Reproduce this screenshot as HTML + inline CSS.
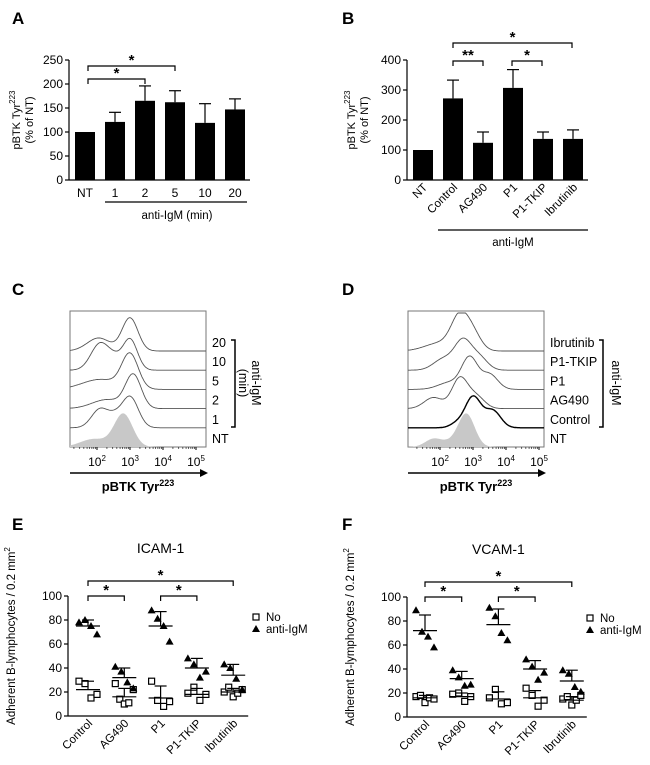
<!DOCTYPE html>
<html><head><meta charset="utf-8"><style>
html,body{margin:0;padding:0;background:#fff;}
svg{display:block;font-family:"Liberation Sans",Arial,sans-serif;}
</style></head><body>
<svg id="fig" width="650" height="765" viewBox="0 0 650 765" xmlns="http://www.w3.org/2000/svg"></svg>
<script>
// ---------- data ----------
const aCats = ["NT","1","2","5","10","20"];
const aVals = [100,121,165,162,119,147];
const aErr  = [0,20,31,24,40,22];
const aTicks = [0,50,100,150,200,250];
const bCats = ["NT","Control","AG490","P1","P1-TKIP","Ibrutinib"];
const bVals = [100,272,124,307,137,137];
const bErr  = [0,61,36,61,23,30];
const bTicks = [0,100,200,300,400];
const eCats = ["Control","AG490","P1","P1-TKIP","Ibrutinib"];
const eNo   = [[29,27,15,18],[27,14,10,11,22],[29,13,8,12],[19,24,13,18],[20,24,16,19,22]];
const eAnti = [[78,80,75,68],[41,37,28,23],[88,81,75,62],[48,43,32,37],[43,40,31,22]];
const eNoMean=[22,16,15,18,20], eNoSd=[7,7,10,5,3];
const eAntiMean=[75,32,75,40,34], eAntiSd=[5,8,12,8,9];
const fNo   = [[17,18,12,16,15],[19,20,13,17],[16,23,11,12],[24,18,9,14],[15,17,10,14,18]];
const fAnti = [[89,71,67,58],[39,33,26,27],[91,84,70,64],[48,42,31,37],[39,36,25,21]];
const fNoMean=[16,17,15,16,14], fNoSd=[2,3,6,6,3];
const fAntiMean=[72,32,77,40,30], fAntiSd=[13,6,13,7,9];
const yTicksEF = [0,20,40,60,80,100];
const cLabels = ["20","10","5","2","1","NT"];
const dLabels = ["Ibrutinib","P1-TKIP","P1","AG490","Control","NT"];
// histogram peaks [log10 center, sigma, height px], top trace first
const cPeaks = [[[3.0,0.24,33],[2.05,0.35,13]],[[2.1,0.28,27],[3.0,0.22,31],[2.55,0.2,8]],[[3.0,0.25,34],[2.1,0.55,10]],[[3.1,0.24,33],[2.3,0.45,9]],[[2.1,0.26,19],[3.0,0.25,31],[2.55,0.2,8]],[[2.8,0.28,33],[1.9,0.4,8]]];
const dPeaks = [[[2.6,0.26,32],[3.0,0.25,16],[2.0,0.45,8]],[[2.7,0.26,29],[2.1,0.3,11],[3.2,0.25,12]],[[2.9,0.24,31],[3.5,0.25,15],[2.3,0.35,7]],[[2.6,0.24,30],[1.8,0.28,11],[3.1,0.25,12]],[[3.0,0.24,31],[3.6,0.24,17],[2.5,0.2,4]],[[2.8,0.25,33],[1.8,0.25,8],[2.3,0.25,4]]];

const NS="http://www.w3.org/2000/svg";
const svg=document.getElementById('fig');
function mk(tag,attrs,name,parent){
  const el=document.createElementNS(NS,tag);
  for(const k in attrs) el.setAttribute(k,attrs[k]);
  
  
  (parent||svg).appendChild(el);
  return el;
}
function line(x1,y1,x2,y2,name,w){return mk('line',{x1,y1,x2,y2,stroke:'#000','stroke-width':w||1.2},name);}
function text(x,y,s,name,o){o=o||{};const t=mk('text',Object.assign({x,y,'font-size':o.fs||12,'text-anchor':o.anchor||'middle',fill:'#000'},o.extra||{}),name);t.textContent=s;return t;}
function ytitle(x,y,html,name,fs){const t=mk('text',{x:0,y:0,'font-size':fs||11,'text-anchor':'middle',transform:`translate(${x},${y}) rotate(-90)`},name);t.innerHTML=html;return t;}
function bracket(x1,x2,y,star,name){
  mk('path',{d:`M${x1},${y+5}V${y}H${x2}V${y+5}`,fill:'none',stroke:'#000','stroke-width':1.2},name);
  text((x1+x2)/2,y-1,star,name+'-star',{fs:15,extra:{'font-weight':'bold'}});
}
// panel letters
[['A',12,24],['B',342,24],['C',12,295],['D',342,295],['E',12,530],['F',342,530]].forEach(p=>{text(p[1],p[2],p[0],'panel-label-'+p[0].toLowerCase(),{fs:17,anchor:'start',extra:{'font-weight':'bold'}});});

// ---------- bar charts ----------
function barChart(cats,vals,errs,ticks,ax,x0,dx,yMax,prefix,rot){
  const y=v=>180-v*120/yMax;
  line(ax,60,ax,180,prefix+'-y-axis');
  line(ax,180,x0+dx*(cats.length-1)+15,180,prefix+'-x-axis');
  ticks.forEach(t=>{line(ax-4,y(t),ax,y(t),prefix+'-y-tick');text(ax-6,y(t)+4,String(t),prefix+'-y-tick-label',{fs:12,anchor:'end'});});
  cats.forEach((c,i)=>{
    const cx=x0+i*dx;
    if(errs[i]>0){line(cx,y(vals[i]),cx,y(vals[i]+errs[i]),prefix+'-error-bar');line(cx-6,y(vals[i]+errs[i]),cx+6,y(vals[i]+errs[i]),prefix+'-error-cap');}
    mk('rect',{x:cx-10,y:y(vals[i]),width:20,height:180-y(vals[i]),fill:'#000'},prefix+'-bar-'+c.toLowerCase());
    if(rot){text(cx+5,188,c,prefix+'-x-label',{fs:11.5,anchor:'end',extra:{transform:`rotate(-45 ${cx+5} 188)`}});}
    else text(cx,197,c,prefix+'-x-label',{fs:12});
  });
}
barChart(aCats,aVals,aErr,aTicks,69,85,30,250,'panel-a',false);
ytitle(20,120,'pBTK Tyr<tspan dy="-5" font-size="8">223</tspan>','panel-a-y-title');
ytitle(33,120,'(% of NT)','panel-a-y-title-2');
line(105,202,247,202,'panel-a-group-line');
text(177,219,'anti-IgM (min)','panel-a-group-label',{fs:11.5});
bracket(88,175,66,'*','panel-a-sig-2');
bracket(88,145,79,'*','panel-a-sig-1');

barChart(bCats,bVals,bErr,bTicks,407,423,30,400,'panel-b',true);
ytitle(355,120,'pBTK Tyr<tspan dy="-5" font-size="8">223</tspan>','panel-b-y-title');
ytitle(368,120,'(% of NT)','panel-b-y-title-2');
line(438,230,588,230,'panel-b-group-line');
text(513,246,'anti-IgM','panel-b-group-label',{fs:11.5});
bracket(453,572,43,'*','panel-b-sig-ibrutinib');
bracket(453,483,61,'**','panel-b-sig-ag490');
bracket(512,542,61,'*','panel-b-sig-tkip');

// ---------- histograms ----------
function histo(peaks,labels,bx,tick2,prefix,bracketX,bracketTxt,labOff){
  const bx2=bx+136;
  mk('rect',{x:bx,y:311,width:136,height:136,fill:'none',stroke:'#777','stroke-width':1},prefix+'-plot-frame');
  const xl=l=>tick2+(l-2)*33;
  const lo=(bx-tick2)/33+2, hi=(bx2-tick2)/33+2;
  peaks.forEach((pk,i)=>{
    const base=351+i*19.2;
    let d='';
    for(let l=lo;l<=hi;l+=0.02){
      let h=0;pk.forEach(p=>{h+=p[2]*Math.exp(-0.5*((l-p[0])/p[1])**2);});
      h=Math.min(h,38);
      d+=(d?'L':'M')+xl(l).toFixed(1)+','+(base-h).toFixed(1);
    }
    if(i===peaks.length-1){mk('path',{d:d+`L${bx2},${base}L${bx},${base}Z`,fill:'#c8c8c8',stroke:'none'},prefix+'-histogram-nt');}
    else mk('path',{d,fill:'none',stroke:(prefix==='panel-d'&&i===4)?'#000':'#555','stroke-width':(prefix==='panel-d'&&i===4)?1.4:0.9},prefix+'-histogram-'+labels[i].toLowerCase());
    text(bx2+6,base-4,labels[i],prefix+'-trace-label',{fs:12.5,anchor:'start'});
  });
  for(let e=2;e<=5;e++){
    const x=xl(e);
    line(x,447,x,450,prefix+'-x-tick',1);
    const t=text(x,466,'',prefix+'-x-tick-label',{fs:12});
    t.innerHTML='10<tspan dy="-5" font-size="8">'+e+'</tspan>';
    for(let m=2;m<10;m++){const xm=xl(e-1+Math.log10(m));if(xm>bx&&xm<bx2)line(xm,447,xm,449,prefix+'-minor-tick',0.6);}
  }
  line(bx,473,bx2-4,473,prefix+'-axis-arrow',1.5);
  mk('path',{d:`M${bx2+2},473L${bx2-6},469L${bx2-6},477Z`,fill:'#000'},prefix+'-arrow-head');
  const t=text((bx+bx2)/2,491,'',prefix+'-x-title',{fs:13,extra:{'font-weight':'bold'}});
  t.innerHTML='pBTK Tyr<tspan dy="-5" font-size="9">223</tspan>';
  mk('path',{d:`M${bracketX-4},340H${bracketX}V427H${bracketX-4}`,fill:'none',stroke:'#000','stroke-width':1.5},prefix+'-group-bracket');
  const g=mk('text',{x:0,y:0,'font-size':12.5,'text-anchor':'middle',transform:`translate(${bracketX+labOff},383) rotate(90)`},prefix+'-group-label');
  g.innerHTML=bracketTxt;
}
histo(cPeaks,cLabels,70,97,'panel-c',235,'anti-IgM<tspan x="0" dy="13">(min)</tspan>',17);
histo(dPeaks,dLabels,408,440,'panel-d',603,'anti-IgM',9);

// ---------- scatter ----------
function scatter(noD,antiD,noM,noS,antiM,antiS,ax,x0,dx,y0,prefix,title,legX){
  const y=v=>y0-v*1.2;
  line(ax,y(100),ax,y0,prefix+'-y-axis');
  line(ax,y0,x0+dx*4+15,y0,prefix+'-x-axis');
  yTicksEF.forEach(t=>{line(ax-4,y(t),ax,y(t),prefix+'-y-tick');text(ax-6,y(t)+4,String(t),prefix+'-y-tick-label',{fs:12,anchor:'end'});});
  eCats.forEach((c,i)=>{
    const cx=x0+i*dx;
    text(cx+5,y0+8,c,prefix+'-x-label',{fs:11.5,anchor:'end',extra:{transform:`rotate(-45 ${cx+5} ${y0+8})`}});
    [[noD[i],noM[i],noS[i],'no'],[antiD[i],antiM[i],antiS[i],'anti']].forEach(s=>{
      const pts=s[0],n=pts.length;
      pts.forEach((v,j)=>{
        const px=cx-9+(n>1?18*j/(n-1):9);
        if(s[3]==='no') mk('rect',{x:px-3,y:y(v)-3,width:6,height:6,fill:'#fff',stroke:'#000','stroke-width':1.2},prefix+'-point-no');
        else mk('path',{d:`M${px},${y(v)-4}L${px+4},${y(v)+3}L${px-4},${y(v)+3}Z`,fill:'#000'},prefix+'-point-anti-igm');
      });
      line(cx-12,y(s[1]),cx+12,y(s[1]),prefix+'-mean-line');
      line(cx,y(s[1]),cx,y(s[1]+s[2]),prefix+'-sd-line');
      line(cx-6,y(s[1]+s[2]),cx+6,y(s[1]+s[2]),prefix+'-sd-cap');
    });
  });
  text(x0+2*dx,y0-163,title,prefix+'-title',{fs:14});
  ytitle(ax-53,y0-80,'Adherent B-lymphocytes / 0.2 mm<tspan dy="-5" font-size="8">2</tspan>',prefix+'-y-title',11.5);
  mk('rect',{x:legX-3,y:y0-102,width:6,height:6,fill:'#fff',stroke:'#000','stroke-width':1.2},prefix+'-legend-no-marker');
  text(legX+10,y0-95,'No',prefix+'-legend-no',{fs:11.5,anchor:'start'});
  mk('path',{d:`M${legX},${y0-91}L${legX+4},${y0-84}L${legX-4},${y0-84}Z`,fill:'#000'},prefix+'-legend-anti-marker');
  text(legX+10,y0-83,'anti-IgM',prefix+'-legend-anti-igm',{fs:11.5,anchor:'start'});
  bracket(x0,x0+4*dx,y0-135,'*',prefix+'-sig-ibrutinib');
  bracket(x0,x0+dx,y0-120,'*',prefix+'-sig-ag490');
  bracket(x0+2*dx,x0+3*dx,y0-120,'*',prefix+'-sig-tkip');
}
scatter(eNo,eAnti,eNoMean,eNoSd,eAntiMean,eAntiSd,68,88,36.3,716,'panel-e','ICAM-1',256);
scatter(fNo,fAnti,fNoMean,fNoSd,fAntiMean,fAntiSd,407,425,36.7,717,'panel-f','VCAM-1',590);
</script>
</body></html>
